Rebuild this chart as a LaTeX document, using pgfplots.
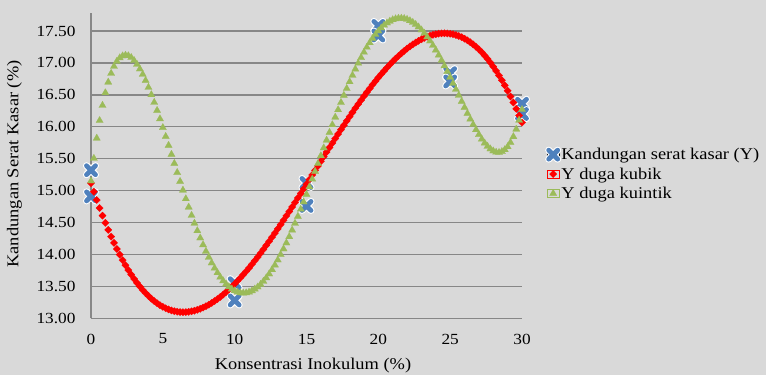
\documentclass[border=0pt]{standalone}
\usepackage{fontspec}
\setmainfont{Liberation Serif}[FakeStretch=1.12]
\usepackage{pgfplots}
\pgfplotsset{compat=1.18}
\definecolor{bg}{HTML}{D9D9D9}
\definecolor{gridc}{HTML}{878787}
\definecolor{xblue}{HTML}{4F81BD}
\definecolor{kred}{HTML}{FF0000}
\definecolor{kgreen}{HTML}{9BBB59}
\pgfdeclareplotmark{kx}{%
  \pgfsetroundcap
  \pgfsetlinewidth{7bp}%
  \pgfsetstrokecolor{white}%
  \pgfpathmoveto{\pgfqpoint{-\pgfplotmarksize}{-\pgfplotmarksize}}%
  \pgfpathlineto{\pgfqpoint{\pgfplotmarksize}{\pgfplotmarksize}}%
  \pgfpathmoveto{\pgfqpoint{-\pgfplotmarksize}{\pgfplotmarksize}}%
  \pgfpathlineto{\pgfqpoint{\pgfplotmarksize}{-\pgfplotmarksize}}%
  \pgfusepathqstroke
  \pgfsetlinewidth{4.8bp}%
  \pgfsetstrokecolor{xblue}%
  \pgfpathmoveto{\pgfqpoint{-\pgfplotmarksize}{-\pgfplotmarksize}}%
  \pgfpathlineto{\pgfqpoint{\pgfplotmarksize}{\pgfplotmarksize}}%
  \pgfpathmoveto{\pgfqpoint{-\pgfplotmarksize}{\pgfplotmarksize}}%
  \pgfpathlineto{\pgfqpoint{\pgfplotmarksize}{-\pgfplotmarksize}}%
  \pgfusepathqstroke
}
\begin{document}
\begin{tikzpicture}
\fill[bg] (0,0) rectangle (766bp,375bp);
\begin{axis}[
  at={(91bp,56.7bp)}, anchor=south west,
  scale only axis, width=431bp, height=305.6bp,
  xmin=0, xmax=30, ymin=13, ymax=17.787,
  clip=false,
  axis x line=bottom, axis y line=left,
  axis line style={-, draw=gridc, line width=1.3bp},
  ymajorgrids, major grid style={draw=gridc, line width=1.3bp},
  xtick={0,5,10,15,20,25,30},
  ytick={13,13.5,14,14.5,15,15.5,16,16.5,17,17.5},
  major tick length=0pt,
  /pgf/number format/assume math mode=true,
  tick label style={font=\fontsize{15.5}{18}\selectfont},
  xticklabel style={yshift=-12bp},
  yticklabel style={xshift=-12bp, /pgf/number format/.cd, fixed, fixed zerofill, precision=2},
  xlabel={Konsentrasi Inokulum (\%)},
  ylabel={Kandungan Serat Kasar (\%)},
  label style={font=\fontsize{16.5}{19}\selectfont},
  xlabel style={at={(axis description cs:0.515,-0.153)}, anchor=center},
  ylabel style={at={(axis description cs:-0.1775,0.505)}, anchor=center},
  legend cell align=left,
  legend style={at={(axis description cs:1.058,0.472)}, anchor=west, draw=none, fill=none, inner sep=0pt, outer sep=0pt, font=\fontsize{16.5}{19}\selectfont, row sep=2.5bp},
  legend image code/.code={\path (-6bp,-4bp) rectangle (6bp,4bp); \draw[#1] plot coordinates {(0bp,0bp)};},
]
\addplot[only marks, mark=kx, mark size=4.5bp] table {
x y
0 15.32
0 14.91
10 13.55
10 13.28
15 15.12
15 14.76
20 17.58
20 17.43
25 16.84
25 16.71
30 16.36
30 16.20
};
\addlegendentry{Kandungan serat kasar (Y)}
\addplot[only marks, color=kred, mark=square*, mark size=2.6bp, mark options={rotate=45, fill=kred, draw=kred, line width=0.2bp}] table {
x y
0 15.117
0.2 14.982
0.4 14.852
0.6 14.727
0.8 14.608
1 14.494
1.2 14.385
1.4 14.280
1.6 14.181
1.8 14.086
2 13.997
2.2 13.912
2.4 13.832
2.6 13.756
2.8 13.685
3 13.618
3.2 13.556
3.4 13.498
3.6 13.444
3.8 13.394
4 13.349
4.2 13.307
4.4 13.270
4.6 13.236
4.8 13.206
5 13.180
5.2 13.157
5.4 13.139
5.6 13.123
5.8 13.111
6 13.103
6.2 13.098
6.4 13.096
6.6 13.097
6.8 13.101
7 13.109
7.2 13.119
7.4 13.133
7.6 13.149
7.8 13.168
8 13.189
8.2 13.214
8.4 13.240
8.6 13.270
8.8 13.301
9 13.335
9.2 13.372
9.4 13.410
9.6 13.451
9.8 13.494
10 13.538
10.2 13.585
10.4 13.634
10.6 13.684
10.8 13.736
11 13.789
11.2 13.845
11.4 13.901
11.6 13.959
11.8 14.019
12 14.080
12.2 14.142
12.4 14.205
12.6 14.269
12.8 14.335
13 14.401
13.2 14.468
13.4 14.536
13.6 14.604
13.8 14.674
14 14.744
14.2 14.814
14.4 14.885
14.6 14.956
14.8 15.028
15 15.100
15.2 15.172
15.4 15.244
15.6 15.316
15.8 15.388
16 15.460
16.2 15.532
16.4 15.604
16.6 15.675
16.8 15.746
17 15.816
17.2 15.886
17.4 15.955
17.6 16.024
17.8 16.092
18 16.159
18.2 16.225
18.4 16.291
18.6 16.355
18.8 16.418
19 16.480
19.2 16.541
19.4 16.600
19.6 16.659
19.8 16.715
20 16.771
20.2 16.824
20.4 16.876
20.6 16.926
20.8 16.975
21 17.022
21.2 17.066
21.4 17.109
21.6 17.150
21.8 17.188
22 17.225
22.2 17.259
22.4 17.290
22.6 17.320
22.8 17.346
23 17.371
23.2 17.392
23.4 17.411
23.6 17.427
23.8 17.441
24 17.451
24.2 17.459
24.4 17.463
24.6 17.464
24.8 17.462
25 17.457
25.2 17.449
25.4 17.437
25.6 17.422
25.8 17.403
26 17.380
26.2 17.354
26.4 17.324
26.6 17.291
26.8 17.253
27 17.212
27.2 17.166
27.4 17.116
27.6 17.063
27.8 17.005
28 16.942
28.2 16.876
28.4 16.804
28.6 16.729
28.8 16.648
29 16.564
29.2 16.474
29.4 16.380
29.6 16.280
29.8 16.176
30 16.067
};
\addlegendentry{Y duga kubik}
\addplot[only marks, color=kgreen, mark=triangle*, mark size=4.2bp, mark options={fill=kgreen, draw=kgreen, line width=0.2bp}] table {
x y
0 15.150
0.2 15.505
0.4 15.821
0.6 16.098
0.8 16.335
1 16.533
1.2 16.699
1.4 16.837
1.6 16.946
1.8 17.027
2 17.079
2.2 17.110
2.4 17.121
2.6 17.113
2.8 17.085
3 17.038
3.2 16.978
3.4 16.905
3.6 16.821
3.8 16.725
4 16.617
4.2 16.502
4.4 16.382
4.6 16.256
4.8 16.124
5 15.987
5.2 15.848
5.4 15.708
5.6 15.567
5.8 15.426
6 15.283
6.2 15.144
6.4 15.007
6.6 14.872
6.8 14.741
7 14.612
7.2 14.489
7.4 14.371
7.6 14.258
7.8 14.151
8 14.049
8.2 13.955
8.4 13.867
8.6 13.786
8.8 13.713
9 13.646
9.2 13.587
9.4 13.536
9.6 13.493
9.8 13.458
10 13.430
10.2 13.411
10.4 13.399
10.6 13.395
10.8 13.399
11 13.410
11.2 13.430
11.4 13.457
11.6 13.490
11.8 13.531
12 13.579
12.2 13.634
12.4 13.695
12.6 13.761
12.8 13.834
13 13.913
13.2 13.998
13.4 14.087
13.6 14.180
13.8 14.278
14 14.381
14.2 14.487
14.4 14.596
14.6 14.708
14.8 14.823
15 14.940
15.2 15.059
15.4 15.180
15.6 15.301
15.8 15.423
16 15.546
16.2 15.669
16.4 15.790
16.6 15.911
16.8 16.031
17 16.150
17.2 16.266
17.4 16.380
17.6 16.491
17.8 16.599
18 16.705
18.2 16.806
18.4 16.903
18.6 16.995
18.8 17.083
19 17.167
19.2 17.245
19.4 17.317
19.6 17.384
19.8 17.445
20 17.500
20.2 17.548
20.4 17.590
20.6 17.626
20.8 17.654
21 17.677
21.2 17.691
21.4 17.699
21.6 17.700
21.8 17.695
22 17.682
22.2 17.662
22.4 17.635
22.6 17.602
22.8 17.563
23 17.517
23.2 17.465
23.4 17.407
23.6 17.343
23.8 17.275
24 17.201
24.2 17.122
24.4 17.040
24.6 16.955
24.8 16.867
25 16.775
25.2 16.681
25.4 16.586
25.6 16.492
25.8 16.397
26 16.303
26.2 16.209
26.4 16.120
26.6 16.035
26.8 15.954
27 15.878
27.2 15.807
27.4 15.745
27.6 15.694
27.8 15.653
28 15.621
28.2 15.601
28.4 15.597
28.6 15.611
28.8 15.641
29 15.688
29.2 15.754
29.4 15.845
29.6 15.962
29.8 16.103
30 16.270
};
\addlegendentry{Y duga kuintik}
\end{axis}
\pgfresetboundingbox
\path[use as bounding box] (0,0) rectangle (766bp,375bp);
\end{tikzpicture}
\end{document}
